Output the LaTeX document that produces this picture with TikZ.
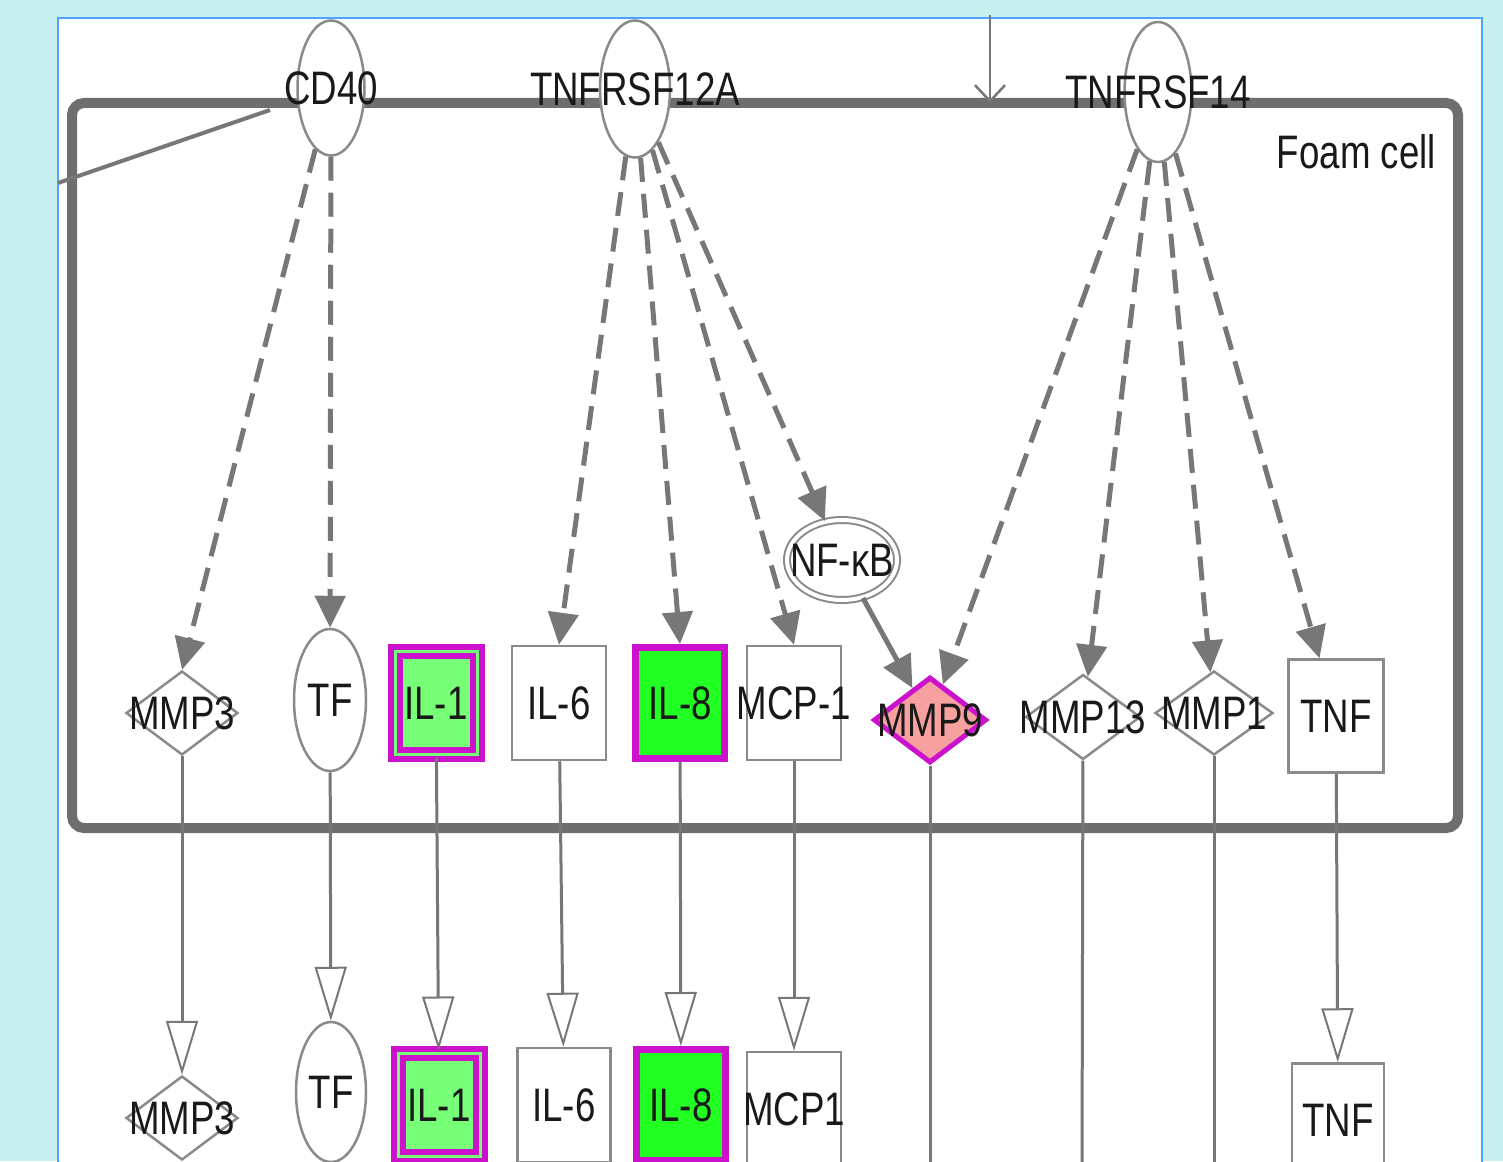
\documentclass[tikz,border=0pt]{standalone}
\usepackage{fontspec}
\setmainfont{Liberation Sans}[FakeStretch=0.78]
\usetikzlibrary{shapes.geometric,arrows.meta}
\definecolor{bgcyan}{HTML}{C8F0F0}
\definecolor{panelblue}{HTML}{4DA3FF}
\definecolor{edgegray}{HTML}{777777}
\definecolor{memgray}{HTML}{6E6E6E}
\definecolor{nodegray}{HTML}{8A8A8A}
\definecolor{mag}{HTML}{CC11CC}
\definecolor{lgreen}{HTML}{77FF77}
\definecolor{bgreen}{HTML}{22FF22}
\definecolor{salmon}{HTML}{F6A0A0}
\tikzset{
  lbl/.style={font=\fontsize{47}{56}\selectfont, text=black!90, inner sep=0pt},
  every label/.style={lbl},
  base/.style={draw=nodegray, line width=2.5pt, fill=white, inner sep=0pt},
  ell/.style={base, ellipse},
  dia/.style={base, diamond},
  box/.style={base, rectangle},
  dblell/.style={base, ellipse, line width=2pt, double=white, double distance=4pt},
  lgbox/.style={rectangle, inner sep=0pt, draw=mag, line width=6pt, double=lgreen, double distance=3pt, fill=lgreen, minimum width=82pt, minimum height=103pt},
  bgbox/.style={rectangle, inner sep=0pt, draw=mag, line width=7pt, fill=bgreen, minimum width=89pt, minimum height=111pt},
  redia/.style={diamond, inner sep=0pt, draw=mag, line width=5pt, fill=salmon},
  dashedge/.style={draw=edgegray, line width=5pt, dash pattern=on 24pt off 12pt, -{Triangle[length=32pt,width=30pt]}},
  fulledge/.style={draw=edgegray, line width=5pt, -{Triangle[length=32pt,width=30pt]}},
  openedge/.style={draw=edgegray, line width=3pt, -{Triangle[open,length=54pt,width=32pt,fill=white,line width=2pt]}},
  plainedge/.style={draw=edgegray, line width=3pt},
}
\begin{document}
\begin{tikzpicture}[x=1pt,y=-1pt]
\useasboundingbox (0,0) rectangle (1503,1161);
\clip (0,0) rectangle (1503,1161);
\fill[bgcyan] (0,0) rectangle (1503,1161);
\draw[panelblue, line width=2pt, fill=white] (58,18) rectangle (1482,1185);

% membrane
\draw[memgray, line width=10pt, rounded corners=12pt] (72,103) rectangle (1458,828);
\node (foam) [lbl, anchor=east] at (1436,152) {Foam cell};

% line from left to membrane
\coordinate (lin1) at (58,183);
\coordinate (lin2) at (270,110);
\draw[edgegray, line width=4pt] (lin1) -- (lin2);

% arrow from top
\coordinate (topin) at (990,15);
\coordinate (topend) at (990,103);
\draw[edgegray, line width=2.5pt, -{Straight Barb[length=16pt,width=30pt,line width=2.5pt]}] (topin) -- (topend);

% top receptors
\node (cd40) [ell, minimum width=67pt, minimum height=135pt, label={center:CD40}] at (331,88) {};
\node (t12a) [ell, minimum width=70pt, minimum height=137pt, label={center:TNFRSF12A}] at (635,89) {};
\node (t14) [ell, minimum width=67pt, minimum height=140pt, label={center:TNFRSF14}] at (1158,92) {};

% middle row
\node (mmp3) [dia, minimum width=112pt, minimum height=84pt, label={center:MMP3}] at (182,713) {};
\node (tf) [ell, minimum width=72pt, minimum height=142pt, label={center:TF}] at (330,700) {};
\node (il1) [lgbox, label={center:IL-1}] at (436,703) {};
\node (il6) [box, minimum width=94pt, minimum height=114pt, label={center:IL-6}] at (559,703) {};
\node (il8) [bgbox, label={center:IL-8}] at (680,703) {};
\node (mcp1) [box, minimum width=94pt, minimum height=114pt, label={center:MCP-1}] at (794,703) {};
\node (nfkb) [dblell, minimum width=110pt, minimum height=80pt, label={center:NF-κB}] at (842,560) {};
\node (mmp9) [redia, minimum width=113pt, minimum height=86pt, label={center:MMP9}] at (930,720) {};
\node (mmp13) [dia, minimum width=115pt, minimum height=85pt, label={center:MMP13}] at (1083,717) {};
\node (mmp1) [dia, minimum width=118pt, minimum height=84pt, label={center:MMP1}] at (1214,713) {};
\node (tnf) [box, minimum width=95pt, minimum height=113pt, label={center:TNF}] at (1336,716) {};

% bottom row
\node (mmp3b) [dia, minimum width=112pt, minimum height=84pt, label={center:MMP3}] at (182,1118) {};
\node (tfb) [ell, minimum width=70pt, minimum height=140pt, label={center:TF}] at (331,1092) {};
\node (il1b) [lgbox, label={center:IL-1}] at (439,1105) {};
\node (il6b) [box, minimum width=93pt, minimum height=114pt, label={center:IL-6}] at (564,1105) {};
\node (il8b) [bgbox, label={center:IL-8}] at (681,1105) {};
\node (mcp1b) [box, minimum width=94pt, minimum height=114pt, label={center:MCP1}] at (794,1109) {};
\node (tnfb) [box, minimum width=92pt, minimum height=113pt, label={center:TNF}] at (1338,1120) {};

\coordinate (mmp9out) at (930,1175);
\coordinate (mmp13out) at (1082,1175);
\coordinate (mmp1out) at (1214,1175);

% dashed edges
\draw[dashedge] (cd40) -- (mmp3.north);
\draw[dashedge] (cd40) -- (tf);
\draw[dashedge] (t12a) -- (il6.north);
\draw[dashedge] (t12a) -- (il8.north);
\draw[dashedge] (t12a) -- (mcp1.north);
\draw[dashedge] (t12a) -- (nfkb);
\draw[fulledge] (nfkb) -- (mmp9);
\draw[dashedge] (t14) -- (mmp9);
\draw[dashedge] (t14) -- (mmp13);
\draw[dashedge] (t14) -- (mmp1);
\draw[dashedge] (t14) -- (tnf);

% vertical edges
\draw[openedge] (mmp3) -- (mmp3b);
\draw[openedge] (tf) -- (tfb);
\draw[openedge] (il1) -- (il1b);
\draw[openedge] (il6) -- (il6b);
\draw[openedge] (il8) -- (il8b);
\draw[openedge] (mcp1) -- (mcp1b);
\draw[openedge] (tnf) -- (tnfb);
\draw[plainedge] (mmp9) -- (mmp9out);
\draw[plainedge] (mmp13) -- (mmp13out);
\draw[plainedge] (mmp1) -- (mmp1out);
\end{tikzpicture}
\end{document}
